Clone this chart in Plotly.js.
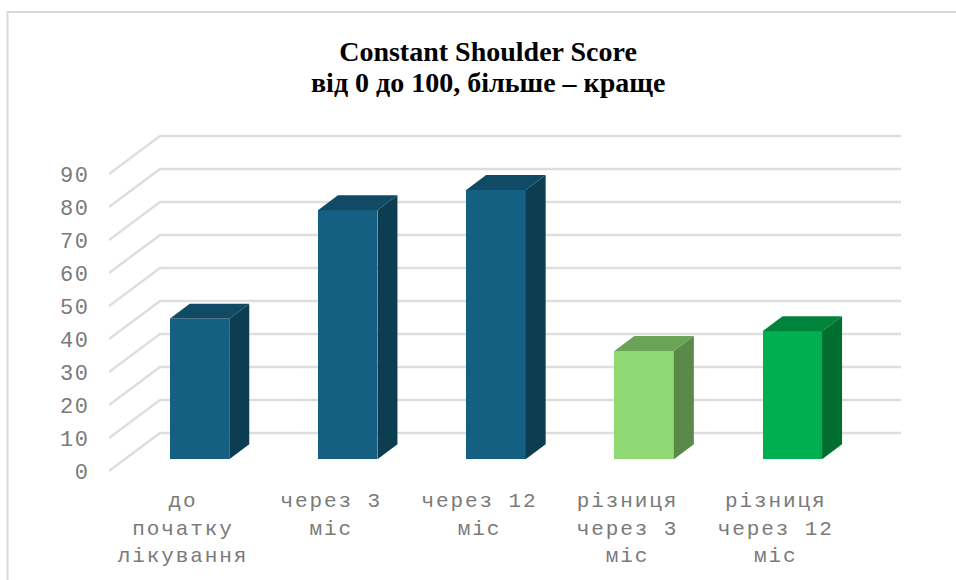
<!DOCTYPE html>
<html>
<head>
<meta charset="utf-8">
<script src="https://cdn.plot.ly/plotly-3.0.1.min.js"></script>
<style>
html,body{margin:0;padding:0;background:#fff;overflow:hidden}
.xtick text{letter-spacing:1.9px}
.ytick text{letter-spacing:1.6px}
</style>
</head>
<body>
<div id="chart" style="width:956px;height:580px"></div>
<script>
var categories = ['до<br>початку<br>лікування','через 3<br>міс','через 12<br>міс','різниця<br>через 3<br>міс','різниця<br>через 12<br>міс'];
var values = [42.6, 75.5, 81.6, 32.8, 38.8];
var frontColors = ['#156082','#156082','#156082','#8ED973','#00B050'];
var topColors = ['#104A64','#104A64','#104A64','#6BA457','#00843C'];
var sideColors = ['#0C3D50','#0C3D50','#0C3D50','#5A8A49','#006E2E'];
var yTicks = [0,10,20,30,40,50,60,70,80,90];
var titleLine1 = 'Constant Shoulder Score';
var titleLine2 = 'від 0 до 100, більше – краще';

var W=956,H=580,L=109,R=901,T=130,B=480;
var pxX=148.2, pxY=3.3;
var catIdx = categories.map(function(_,i){return i;});
var xRange=[(L-183)/pxX,(R-183)/pxX], yRange=[-(B-471)/pxY,(471-T)/pxY];
var x2Range=[(L-199.5)/pxX,(R-199.5)/pxX], y2Range=[-(B-459.3)/pxY,(459.3-T)/pxY];
var barW=59.5/pxX, dx=20/pxX, dy=15/pxY;
var wallX=(160-183)/pxX, wallY=38/pxY;

var wx=[],wy=[];
yTicks.forEach(function(t){
  wx.push(xRange[0],wallX,xRange[1],null);
  wy.push(t,t+wallY,t+wallY,null);
});
var traces=[{type:'scatter',mode:'lines',x:wx,y:wy,xaxis:'x',yaxis:'y',
  line:{color:'#DEDEDE',width:2.5},hoverinfo:'skip',showlegend:false}];

traces.push({type:'bar',x:catIdx,y:values,xaxis:'x2',yaxis:'y2',width:barW,
  marker:{color:frontColors,line:{width:0}},showlegend:false});

catIdx.forEach(function(i){
  var r=i+barW/2,l=i-barW/2,v=values[i];
  traces.push({type:'scatter',mode:'lines',xaxis:'x2',yaxis:'y2',fill:'toself',
    x:[l,r,r+dx,l+dx,l],y:[v,v,v+dy,v+dy,v],
    fillcolor:topColors[i],line:{width:0,color:topColors[i]},hoverinfo:'skip',showlegend:false});
  traces.push({type:'scatter',mode:'lines',xaxis:'x2',yaxis:'y2',fill:'toself',
    x:[r,r+dx,r+dx,r,r],y:[0,dy,v+dy,v,0],
    fillcolor:sideColors[i],line:{width:0,color:sideColors[i]},hoverinfo:'skip',showlegend:false});
});

var monoY={family:'"Liberation Mono",monospace',size:22,color:'#7A7A7A'};
var monoX={family:'"Liberation Mono",monospace',size:21,color:'#7A7A7A'};
var titleFont={family:'"Liberation Serif",serif',size:28,color:'#000',weight:'bold'};
var layout={
  width:W,height:H,
  margin:{l:L,r:W-R,t:T,b:H-B,pad:0},
  paper_bgcolor:'#fff',plot_bgcolor:'rgba(0,0,0,0)',
  showlegend:false,
  bargap:0,
  title:{text:titleLine1,font:titleFont,
    xref:'container',x:488/W,xanchor:'center',yref:'container',y:1-51/H,yanchor:'middle'},
  annotations:[{text:titleLine2,font:titleFont,showarrow:false,
    xref:'paper',x:(488-L)/(R-L),xanchor:'center',yref:'paper',y:(B-83)/(B-T),yanchor:'middle'}],
  xaxis:{type:'linear',range:xRange,tickmode:'array',tickvals:catIdx,ticktext:categories,
    showgrid:false,zeroline:false,showline:false,ticks:'outside',ticklen:1,tickcolor:'rgba(0,0,0,0)',tickfont:monoX,tickangle:0},
  yaxis:{type:'linear',range:yRange,tickmode:'array',tickvals:yTicks,ticktext:yTicks.map(String),
    showgrid:false,zeroline:false,showline:false,ticks:'outside',ticklen:14,tickcolor:'rgba(0,0,0,0)',tickfont:monoY},
  xaxis2:{type:'linear',range:x2Range,overlaying:'x',side:'bottom',visible:false,fixedrange:true},
  yaxis2:{type:'linear',range:y2Range,overlaying:'y',side:'left',visible:false,fixedrange:true},
  shapes:[{type:'path',xref:'paper',yref:'paper',
    path:'M '+((7.5-L)/(R-L))+' '+((B-585)/(B-T))+' L '+((7.5-L)/(R-L))+' '+((B-12)/(B-T))+' L '+((960-L)/(R-L))+' '+((B-12)/(B-T)),
    line:{color:'#D9D9D9',width:2},layer:'below'}]
};
Plotly.newPlot('chart',traces,layout,{displayModeBar:false,staticPlot:true});
</script>
</body>
</html>
